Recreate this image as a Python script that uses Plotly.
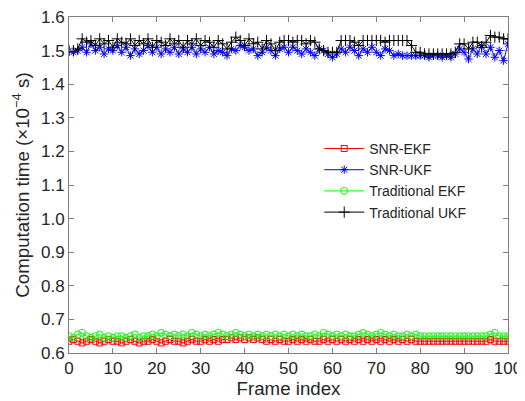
import plotly.graph_objects as go

frames = list(range(0, 101))

trad_ukf = [
    1.500, 1.500, 1.505, 1.535, 1.525, 1.530, 1.515, 1.535, 1.520, 1.530,
    1.510, 1.535, 1.525, 1.520, 1.535, 1.515, 1.530, 1.520, 1.535, 1.510,
    1.530, 1.525, 1.515, 1.535, 1.520, 1.530, 1.510, 1.530, 1.520, 1.535,
    1.515, 1.530, 1.525, 1.510, 1.530, 1.520, 1.505, 1.525, 1.540, 1.530,
    1.515, 1.535, 1.520, 1.525, 1.505, 1.530, 1.520, 1.500, 1.525, 1.530,
    1.530, 1.525, 1.530, 1.530, 1.520, 1.530, 1.525, 1.505, 1.500, 1.495,
    1.495, 1.495, 1.530, 1.530, 1.530, 1.525, 1.515, 1.530, 1.530, 1.530,
    1.530, 1.530, 1.525, 1.530, 1.530, 1.530, 1.530, 1.530, 1.515, 1.495,
    1.495, 1.490, 1.490, 1.490, 1.490, 1.490, 1.490, 1.490, 1.495, 1.520,
    1.520, 1.505, 1.525, 1.525, 1.510, 1.525, 1.545, 1.540, 1.540, 1.535,
    1.535,
]

snr_ukf = [
    1.500, 1.495, 1.500, 1.510, 1.495, 1.520, 1.500, 1.510, 1.490, 1.505,
    1.500, 1.515, 1.495, 1.510, 1.485, 1.505, 1.490, 1.500, 1.515, 1.495,
    1.510, 1.490, 1.505, 1.495, 1.510, 1.490, 1.505, 1.495, 1.510, 1.490,
    1.505, 1.495, 1.510, 1.490, 1.500, 1.495, 1.485, 1.505, 1.500, 1.515,
    1.510, 1.500, 1.505, 1.485, 1.495, 1.510, 1.500, 1.485, 1.505, 1.510,
    1.495, 1.510, 1.500, 1.490, 1.505, 1.495, 1.485, 1.505, 1.500, 1.490,
    1.480, 1.490, 1.505, 1.495, 1.510, 1.500, 1.485, 1.505, 1.495, 1.510,
    1.495, 1.485, 1.505, 1.500, 1.485, 1.490, 1.485, 1.485, 1.485, 1.485,
    1.485, 1.485, 1.480, 1.485, 1.485, 1.480, 1.485, 1.480, 1.490, 1.505,
    1.495, 1.475, 1.505, 1.490, 1.515, 1.490, 1.510, 1.480, 1.500, 1.470,
    1.520,
]

snr_ekf = [
    0.635, 0.640, 0.635, 0.630, 0.635, 0.640, 0.635, 0.630, 0.635, 0.640,
    0.635, 0.635, 0.630, 0.635, 0.640, 0.635, 0.630, 0.635, 0.635, 0.640,
    0.635, 0.630, 0.635, 0.640, 0.635, 0.635, 0.630, 0.635, 0.640, 0.635,
    0.635, 0.640, 0.635, 0.640, 0.635, 0.640, 0.640, 0.645, 0.640, 0.645,
    0.640, 0.645, 0.640, 0.645, 0.640, 0.635, 0.640, 0.635, 0.640, 0.635,
    0.635, 0.640, 0.635, 0.640, 0.635, 0.640, 0.635, 0.635, 0.640, 0.635,
    0.640, 0.635, 0.640, 0.635, 0.640, 0.635, 0.640, 0.635, 0.640, 0.635,
    0.640, 0.635, 0.640, 0.635, 0.640, 0.635, 0.640, 0.635, 0.640, 0.635,
    0.635, 0.635, 0.635, 0.635, 0.635, 0.635, 0.635, 0.635, 0.635, 0.635,
    0.635, 0.635, 0.635, 0.635, 0.635, 0.635, 0.640, 0.635, 0.635, 0.635,
    0.635,
]

trad_ekf = [
    0.650, 0.645, 0.655, 0.660, 0.650, 0.645, 0.650, 0.655, 0.645, 0.650,
    0.645, 0.650, 0.650, 0.645, 0.650, 0.655, 0.645, 0.650, 0.650, 0.655,
    0.650, 0.660, 0.655, 0.650, 0.655, 0.650, 0.655, 0.650, 0.660, 0.655,
    0.650, 0.655, 0.650, 0.655, 0.660, 0.655, 0.650, 0.655, 0.660, 0.655,
    0.650, 0.655, 0.650, 0.655, 0.650, 0.655, 0.650, 0.655, 0.650, 0.655,
    0.650, 0.655, 0.650, 0.655, 0.650, 0.650, 0.655, 0.650, 0.660, 0.655,
    0.650, 0.655, 0.650, 0.655, 0.650, 0.650, 0.655, 0.660, 0.655, 0.650,
    0.655, 0.660, 0.655, 0.650, 0.655, 0.650, 0.650, 0.655, 0.650, 0.655,
    0.650, 0.650, 0.650, 0.650, 0.650, 0.650, 0.650, 0.650, 0.650, 0.650,
    0.650, 0.650, 0.650, 0.650, 0.650, 0.650, 0.655, 0.660, 0.650, 0.650,
    0.650,
]

y_ticks = [0.6, 0.7, 0.8, 0.9, 1.0, 1.1, 1.2, 1.3, 1.4, 1.5, 1.6]
y_tick_labels = ["0.6", "0.7", "0.8", "0.9", "1.0", "1.1", "1.2", "1.3", "1.4", "1.5", "1.6"]
x_ticks = [0, 10, 20, 30, 40, 50, 60, 70, 80, 90, 100]

FONT = "Liberation Sans, Arial, sans-serif"

fig = go.Figure()

series = [
    ("SNR-EKF", snr_ekf, "#ff0000", "square-open", 6),
    ("SNR-UKF", snr_ukf, "#0000ff", "asterisk-open", 7),
    ("Traditional EKF", trad_ekf, "#00ff00", "circle-open", 7),
    ("Traditional UKF", trad_ukf, "#000000", "cross-thin-open", 8),
]
for name, vals, col, sym, sz in series:
    fig.add_trace(go.Scatter(
        x=frames, y=vals, name=name, mode="lines+markers",
        line=dict(color=col, width=1),
        marker=dict(symbol=sym, size=sz, color=col, line=dict(color=col, width=1)),
    ))

axis_common = dict(
    showline=True, linecolor="#808080", linewidth=1, mirror="ticks",
    ticks="inside", ticklen=5, tickcolor="#808080", showgrid=False,
    zeroline=False, automargin=False, ticklabeloverflow="allow",
    tickfont=dict(family=FONT, size=17, color="#262626"),
)

# The page places the figure 8 px in from the top-left corner (default body margin),
# so the figure is sized to fit the 525x401 window exactly.
fig.update_layout(
    width=517, height=393,
    margin=dict(l=61, r=17, t=9, b=48),
    paper_bgcolor="white", plot_bgcolor="white",
    font=dict(family=FONT, color="#262626"),
    xaxis=dict(range=[0, 100], tickvals=x_ticks,
               title=dict(text="Frame index", font=dict(family=FONT, size=18.7), standoff=1),
               **axis_common),
    yaxis=dict(range=[0.6, 1.6], tickvals=y_ticks, ticktext=y_tick_labels,
               title=dict(text="Computation time (×10<sup>−4</sup> s)", font=dict(family=FONT, size=18.7), standoff=6),
               **axis_common),
    legend=dict(x=0.57, y=0.655, xanchor="left", yanchor="top",
                bgcolor="rgba(255,255,255,0)", borderwidth=0,
                font=dict(family=FONT, size=14, color="#262626"),
                tracegroupgap=0, itemwidth=40),
    showlegend=True,
)

fig.write_html("out.html")
